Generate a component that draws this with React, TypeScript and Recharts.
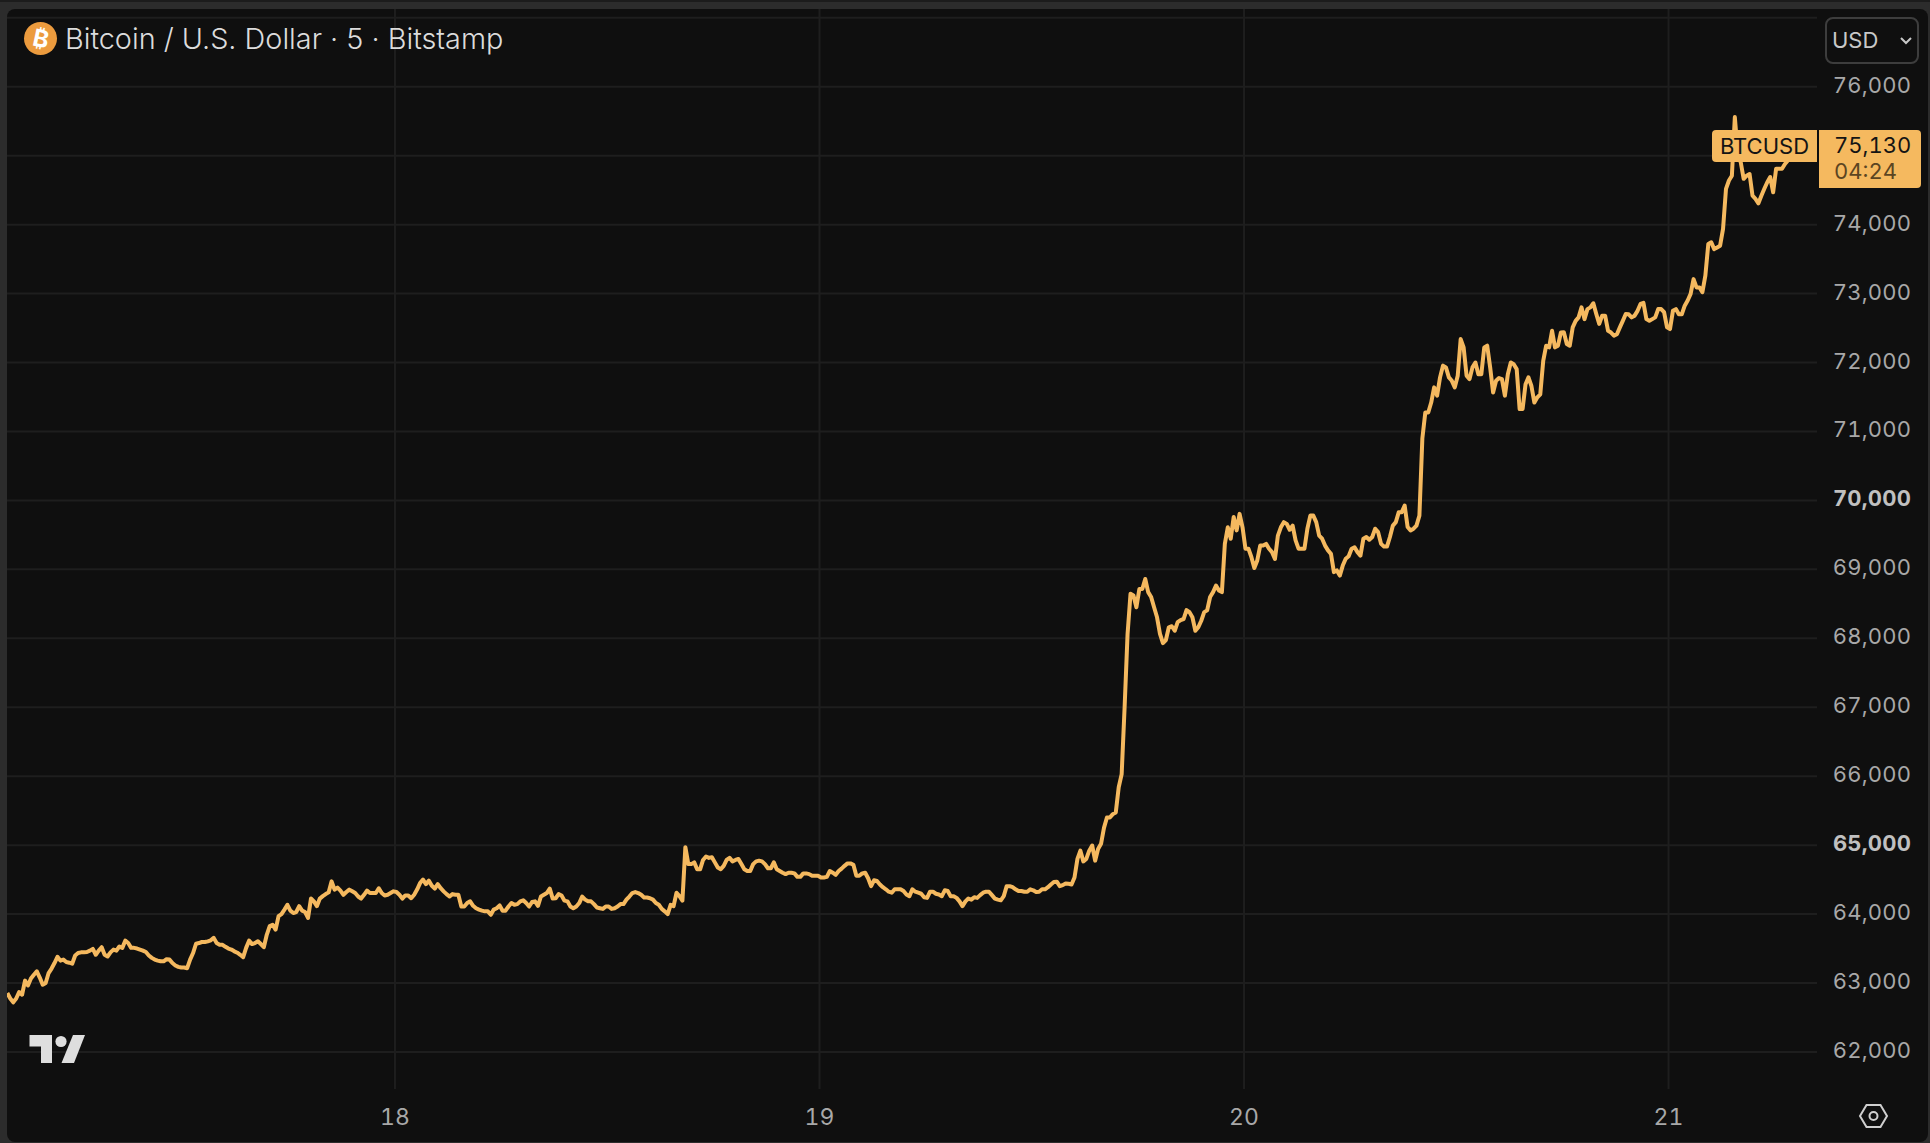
import React from 'react';
import { LineChart, Line, XAxis, YAxis, CartesianGrid } from 'recharts';

// BTCUSD, one value per 10 minutes, split by calendar day
const prices17 = [
  62855, 62775, 62720, 62775, 62870, 62830, 63035, 62965, 63065, 63120, 63170, 63080,
  62975, 63000, 63145, 63210, 63290, 63380, 63325, 63340, 63305, 63295, 63280, 63400,
  63435, 63445, 63445, 63450, 63470, 63495, 63410, 63470, 63520, 63410, 63385, 63445,
  63485, 63470, 63530, 63510, 63615, 63580, 63510, 63510, 63500, 63485, 63470, 63450,
  63400, 63365, 63340, 63325, 63315, 63315, 63345, 63340, 63290, 63255, 63235, 63225,
  63225, 63215, 63340, 63435, 63570, 63580, 63595, 63595, 63605, 63620, 63655, 63580,
  63555, 63555, 63525, 63500, 63485, 63460, 63440, 63410, 63375, 63510, 63615, 63565,
  63580, 63605, 63565, 63520, 63700, 63825, 63845, 63775, 63970, 64000, 64065, 64135,
  64050, 64015, 64030, 64115, 64050, 64030, 63945, 64225, 64185, 64115, 64225, 64260,
  64290, 64315, 64475, 64355, 64385, 64340, 64280, 64320, 64355, 64330, 64305, 64255,
  64225, 64280, 64340, 64305, 64305, 64305, 64375, 64305, 64270, 64280, 64305, 64330,
];
const prices18 = [
  64320, 64280, 64225, 64270, 64270, 64230, 64280, 64355, 64450, 64500, 64435, 64485,
  64410, 64370, 64435, 64375, 64330, 64290, 64255, 64290, 64280, 64280, 64110, 64110,
  64160, 64185, 64120, 64085, 64065, 64050, 64040, 64040, 63990, 64065, 64085, 64125,
  64050, 64050, 64110, 64160, 64135, 64145, 64185, 64200, 64160, 64110, 64175, 64185,
  64120, 64255, 64280, 64305, 64370, 64225, 64230, 64290, 64270, 64195, 64185, 64110,
  64085, 64110, 64160, 64255, 64210, 64185, 64185, 64145, 64095, 64085, 64075, 64110,
  64110, 64075, 64085, 64110, 64145, 64145, 64210, 64255, 64305, 64320, 64305, 64280,
  64240, 64240, 64230, 64210, 64160, 64135, 64075, 64040, 64000, 64135, 64115, 64310,
  64260, 64195, 64970, 64725, 64725, 64750, 64650, 64650, 64785, 64835, 64815, 64825,
  64750, 64675, 64650, 64700, 64785, 64815, 64765, 64785, 64800, 64725, 64650, 64625,
  64625, 64725, 64765, 64775, 64765, 64725, 64665, 64665, 64750, 64650, 64625, 64600,
  64580, 64600, 64600, 64590, 64540, 64540, 64590, 64590, 64580, 64555, 64555, 64555,
];
const prices19 = [
  64530, 64530, 64540, 64625, 64600, 64570, 64625, 64660, 64700, 64735, 64735, 64715,
  64555, 64555, 64590, 64600, 64520, 64405, 64490, 64480, 64430, 64390, 64360, 64325,
  64310, 64360, 64360, 64360, 64335, 64285, 64260, 64360, 64325, 64310, 64295, 64245,
  64235, 64325, 64325, 64295, 64285, 64260, 64345, 64335, 64260, 64260, 64235, 64185,
  64115, 64185, 64225, 64210, 64245, 64235, 64275, 64310, 64325, 64325, 64275, 64225,
  64210, 64200, 64260, 64405, 64405, 64390, 64360, 64335, 64335, 64325, 64325, 64360,
  64345, 64320, 64325, 64360, 64360, 64390, 64430, 64465, 64470, 64405, 64420, 64445,
  64440, 64430, 64530, 64800, 64920, 64765, 64800, 64920, 64995, 64775, 64945, 65020,
  65250, 65400, 65400, 65450, 65475, 65840, 66030, 67000, 68060, 68645, 68620, 68450,
  68715, 68715, 68860, 68670, 68600, 68450, 68305, 68065, 67930, 67975, 68160, 68175,
  68110, 68235, 68265, 68280, 68410, 68380, 68305, 68110, 68160, 68255, 68380, 68405,
  68600, 68670, 68765, 68695, 68670, 69370, 69610, 69445, 69760, 69565, 69805, 69610,
];
const prices20 = [
  69300, 69300, 69180, 69020, 69130, 69345, 69345, 69370, 69300, 69250, 69150, 69490,
  69610, 69685, 69660, 69575, 69635, 69420, 69300, 69300, 69300, 69590, 69780, 69780,
  69685, 69490, 69445, 69345, 69275, 69225, 68960, 68985, 68910, 69055, 69155, 69190,
  69300, 69320, 69250, 69200, 69445, 69470, 69430, 69470, 69590, 69540, 69370, 69330,
  69330, 69470, 69635, 69685, 69830, 69830, 69925, 69615, 69565, 69590, 69635, 69780,
  70900, 71275, 71275, 71420, 71640, 71520, 71785, 71955, 71930, 71785, 71735, 71640,
  71810, 72340, 72220, 71810, 71760, 71930, 72000, 71830, 71830, 72220, 72245, 71930,
  71565, 71735, 71775, 71760, 71520, 71830, 72000, 71975, 71905, 71325, 71325, 71685,
  71785, 71660, 71420, 71495, 71540, 72025, 72245, 72220, 72460, 72220, 72245, 72435,
  72440, 72270, 72245, 72510, 72605, 72655, 72800, 72630, 72775, 72800, 72860, 72705,
  72560, 72680, 72680, 72460, 72435, 72390, 72410, 72510, 72605, 72705, 72700, 72655,
  72680, 72750, 72850, 72865, 72630, 72605, 72630, 72655, 72775, 72775, 72730, 72510,
];
const prices21 = [
  72485, 72750, 72775, 72700, 72700, 72825, 72900, 72995, 73210, 73090, 73090, 73020,
  73260, 73720, 73745, 73645, 73670, 73695, 73940, 74520, 74640, 74710, 75560, 75025,
  74905, 74665, 74710, 74735, 74420, 74375, 74310, 74420, 74520, 74615, 74690, 74470,
  74810, 74810, 74810, 74880, 74930, 74990, 75330, 75200, 75130,
];
const priceTicks = [62000, 63000, 64000, 65000, 66000, 67000, 68000, 69000, 70000, 71000, 72000, 73000, 74000, 75000, 76000, 77000];
const dayTicks = [18, 19, 20, 21];
const boldTicks = [65000, 70000];
const hiddenTicks = [75000, 77000]; // covered by the last price label and the USD box

const prices = [...prices17, ...prices18, ...prices19, ...prices20, ...prices21];
const firstDay = 17.0868;
const data = prices.map((price, i) => ({ day: firstDay + i / 144, price }));

const font = 'Inter, "Noto Sans", sans-serif';
const orange = '#f5b95f';
const tnum: React.CSSProperties = { fontVariantNumeric: 'tabular-nums' };

const PriceTick = (props: any) => {
  const value = props.payload.value;
  if (hiddenTicks.includes(value)) return null;
  const bold = boldTicks.includes(value);
  return (
    <text
      x={1865}
      y={props.y}
      dy={6}
      textAnchor="middle"
      fontFamily={font}
      fontSize={22}
      fontWeight={bold ? 700 : 400}
      fill={bold ? '#c0c0c0' : '#a8a8a8'}
      style={{ ...tnum, letterSpacing: 0.2 }}
    >
      {value.toLocaleString('en-US')}
    </text>
  );
};

const abs = (left: number, top: number, width: number, height: number): React.CSSProperties => ({
  position: 'absolute', left, top, width, height, boxSizing: 'border-box',
});

export default function App() {
  return (
    <div style={{ ...abs(0, 0, 1930, 1143), background: '#2c2c2c', overflow: 'hidden', fontFamily: font }}>
      <div style={{ ...abs(0, 0, 1930, 2), background: '#1c1c1c' }} />
      <div style={{ ...abs(7, 9, 1921, 1133), background: '#0f0f0f', borderRadius: 8 }}>
        <LineChart width={1921} height={1133} data={data} margin={{ top: 0, right: 0, bottom: 0, left: 0 }}>
          <CartesianGrid stroke="#1e1e1e" strokeWidth={2} syncWithTicks />
          <XAxis
            dataKey="day"
            type="number"
            domain={[17.086, 21.3498]}
            ticks={dayTicks}
            height={53}
            axisLine={false}
            tickLine={false}
            tickMargin={14}
            allowDataOverflow
            tick={{ fill: '#a8a8a8', fontSize: 23, fontFamily: font, style: tnum }}
          />
          <YAxis
            orientation="right"
            width={111}
            domain={[61463, 77128]}
            ticks={priceTicks}
            axisLine={false}
            tickLine={false}
            interval={0}
            allowDataOverflow
            tick={<PriceTick />}
          />
          <Line
            dataKey="price"
            type="linear"
            stroke={orange}
            strokeWidth={4}
            strokeLinejoin="round"
            dot={false}
            isAnimationActive={false}
          />
        </LineChart>
      </div>

      {/* header */}
      <div style={{ ...abs(24, 22, 33, 33), borderRadius: '50%', background: '#ec9b3e', color: '#fff', textAlign: 'center', fontSize: 24, fontWeight: 700, lineHeight: '33px' }}>
        <span style={{ display: 'inline-block', transform: 'rotate(12deg)' }}>₿</span>
      </div>
      <div style={{ position: 'absolute', left: 65, top: 21, fontSize: 28.8, fontWeight: 300, lineHeight: '36px', color: '#dcdcdc', whiteSpace: 'nowrap' }}>
        Bitcoin / U.S. Dollar · 5 · Bitstamp
      </div>

      {/* currency box */}
      <div style={{ ...abs(1825, 17, 94, 47), border: '2px solid #3d3d3d', borderRadius: 8, color: '#c8c8c8', fontSize: 22, lineHeight: '43px', paddingLeft: 5 }}>
        USD
      </div>
      <svg style={abs(1898, 34, 16, 14)} viewBox="0 0 16 14">
        <path d="M3 4 L8 9 L13 4" fill="none" stroke="#c8c8c8" strokeWidth={2} />
      </svg>

      {/* last price labels */}
      <div style={{ ...abs(1712, 130, 105, 32), background: orange, borderRadius: '4px 0 0 4px', color: '#141414', fontSize: 22, lineHeight: '32px', textAlign: 'center' }}>
        BTCUSD
      </div>
      <div style={{ ...abs(1819, 130, 102, 58), background: orange, borderRadius: '0 4px 4px 0', fontSize: 22, ...tnum }}>
        <div style={{ position: 'absolute', left: 15, top: 4, color: '#141414', lineHeight: '22px' }}>75,130</div>
        <div style={{ position: 'absolute', left: 15, top: 30, color: '#5c4522', lineHeight: '22px' }}>04:24</div>
      </div>

      {/* TradingView mark */}
      <svg style={abs(28, 1034, 60, 30)} viewBox="28 1034 60 30">
        <path d="M29.5 1035 H52 V1063 H41 V1046.5 H29.5 Z" fill="#dedede" />
        <circle cx={61} cy={1041.5} r={5.6} fill="#dedede" />
        <path d="M73 1035 H85 L74 1063 H61.5 Z" fill="#dedede" />
      </svg>

      {/* settings */}
      <svg style={abs(1855, 1098, 38, 36)} viewBox="1855 1098 38 36">
        <path d="M1860 1116 L1866.5 1105 H1880.5 L1887 1116 L1880.5 1127 H1866.5 Z" fill="none" stroke="#cfcfcf" strokeWidth={2} />
        <circle cx={1873.5} cy={1116} r={4} fill="none" stroke="#cfcfcf" strokeWidth={2} />
      </svg>
    </div>
  );
}
